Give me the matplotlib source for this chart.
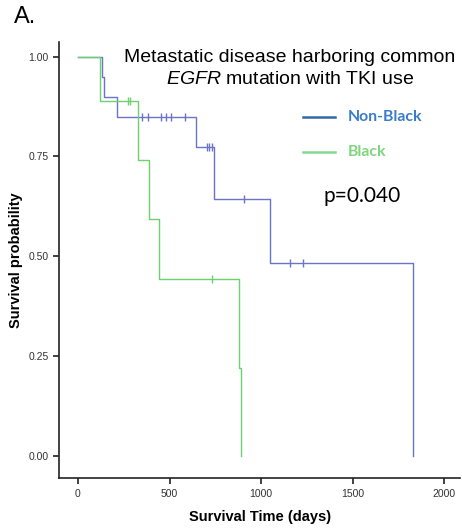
import matplotlib
matplotlib.use('Agg')
import matplotlib.pyplot as plt
from matplotlib.lines import Line2D

plt.rcParams['font.family'] = ['Liberation Sans', 'DejaVu Sans']
plt.rcParams['mathtext.fontset'] = 'custom'
plt.rcParams['mathtext.rm'] = 'Liberation Sans'
plt.rcParams['mathtext.it'] = 'Liberation Sans:italic'

# Kaplan-Meier step data
nonblack_t = [0, 130, 140, 215, 645, 745, 1050, 1828]
nonblack_s = [1.00, 0.95, 0.90, 0.85, 0.773, 0.644, 0.483, 0.0]
nonblack_cens_t = [351, 382, 451, 478, 509, 582, 705, 718, 730, 908, 1160, 1227]
nonblack_cens_s = [0.85, 0.85, 0.85, 0.85, 0.85, 0.85, 0.773, 0.773, 0.773, 0.644, 0.483, 0.483]

black_t = [0, 120, 330, 390, 445, 880, 890]
black_s = [1.00, 0.889, 0.741, 0.593, 0.444, 0.222, 0.0]
black_cens_t = [273, 283, 730]
black_cens_s = [0.889, 0.889, 0.444]

groups = ['Non-Black', 'Black']
x_ticks = [0, 500, 1000, 1500, 2000]
y_ticks = [0.0, 0.25, 0.5, 0.75, 1.0]

BLUE = '#6a74c8'
GREEN = '#6fd06f'
LEG_LINE = ['#2f6aa8', '#86d98f']
LEG_TEXT = ['#3d7cc9', '#7fd67f']

W, H = 462, 529
fig = plt.figure(figsize=(W / 100, H / 100), dpi=100)
ax = fig.add_axes([0.128, 0.096, 0.868, 0.825])

ax.step(nonblack_t, nonblack_s, where='post', color=BLUE, lw=1.0)
ax.plot(nonblack_cens_t, nonblack_cens_s, ls='none', marker='|', ms=6, mew=1.0, color=BLUE)
ax.step(black_t, black_s, where='post', color=GREEN, lw=1.0)
ax.plot(black_cens_t, black_cens_s, ls='none', marker='|', ms=6, mew=1.0, color=GREEN)

ax.set_xlim(-103, 2087)
ax.set_ylim(-0.055, 1.037)
ax.set_xticks(x_ticks)
ax.set_yticks(y_ticks)
ax.set_yticklabels([f'{v:.2f}' for v in y_ticks])
ax.tick_params(labelsize=7.5, labelcolor='#333333', length=4, width=1.2, color='#222222')
for s in ['top', 'right']:
    ax.spines[s].set_visible(False)
for s in ['left', 'bottom']:
    ax.spines[s].set_linewidth(1.2)
    ax.spines[s].set_color('#222222')

ax.set_xlabel('Survival Time (days)', fontsize=10.5, fontweight='bold', labelpad=8)
ax.set_ylabel('Survival probability', fontsize=10.5, fontweight='bold', labelpad=4)

fig.text(290 / W, 1 - 57 / H, 'Metastatic disease harboring common',
         ha='center', va='center', fontsize=14)
fig.text(290 / W, 1 - 79 / H, r'$\it{EGFR}$ mutation with TKI use',
         ha='center', va='center', fontsize=14)
fig.text(14 / W, 1 - 17 / H, 'A.', ha='left', va='center', fontsize=17)

# legend drawn by hand to match spacing
for i, (name, lc, tc) in enumerate(zip(groups, LEG_LINE, LEG_TEXT)):
    y = 1 - (117 + 35 * i) / H
    fig.add_artist(Line2D([303 / W, 335 / W], [y, y], color=lc, lw=1.8,
                          transform=fig.transFigure))
    fig.text(348 / W, y, name, ha='left', va='center', color=tc,
             fontsize=11.4, fontweight='bold', family=['Lato', 'DejaVu Sans'])

fig.text(362 / W, 1 - 196 / H, 'p=0.040', ha='center', va='center',
         fontsize=15, family=['Lato', 'DejaVu Sans'])

fig.savefig('out.png', dpi=100)
